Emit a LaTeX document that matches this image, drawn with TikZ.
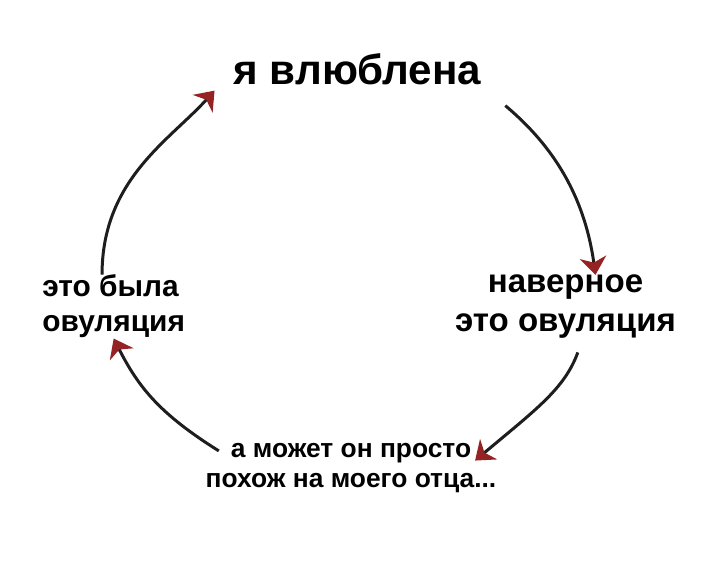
\documentclass[tikz,border=0pt]{standalone}
\usepackage{fontspec}
\setmainfont{Liberation Sans}
\usetikzlibrary{arrows.meta}
\definecolor{arrowred}{RGB}{150,35,35}
\definecolor{linegray}{RGB}{30,30,30}

\begin{document}
\begin{tikzpicture}[x = 0.2mm, y = 0.2mm, font=\bfseries]
	\tikzstyle{TextStyle} = [inner sep = 0pt, anchor = base, align = center, text = black]
	\tikzstyle{ArrowStyle} = [line width = 1.7pt, draw = linegray, -{Stealth[length = 10pt, width = 15pt, inset = 3pt, color = arrowred]}]
	\useasboundingbox[fill = white] (0, 0) rectangle (719, 566);
	\node[TextStyle, font = \fontsize{24}{28}\selectfont\bfseries] (v0) at (357.5, 481) {я влюблена};
	\node[TextStyle, font = \fontsize{18.8}{22.2}\selectfont\bfseries] (v1) at (565.5, 234) {наверное\\это овуляция};
	\node[TextStyle, font = \fontsize{15}{17.6}\selectfont\bfseries] (v2) at (351, 78) {а может он просто\\похож на моего отца...};
	\node[TextStyle, anchor = base west, align = left, font = \fontsize{17}{20}\selectfont\bfseries] (v3) at (42, 234) {это была\\овуляция};
	\draw[ArrowStyle, shorten < = 17.6pt] (v0.south east) to[out = -40, in = 98] (v1.47);
	\draw[ArrowStyle, shorten < = 8pt, shorten > = -16pt] (v1.-62) to[out = -110, in = 40] (v2.north east);
	\draw[ArrowStyle, shorten < = -9pt] (v2.north west) to[out = 148, in = -63] (v3.south);
	\draw[ArrowStyle, shorten > = 16pt] (v3.110) to[out = 90, in = -132] (v0.west);
\end{tikzpicture}
\end{document}
